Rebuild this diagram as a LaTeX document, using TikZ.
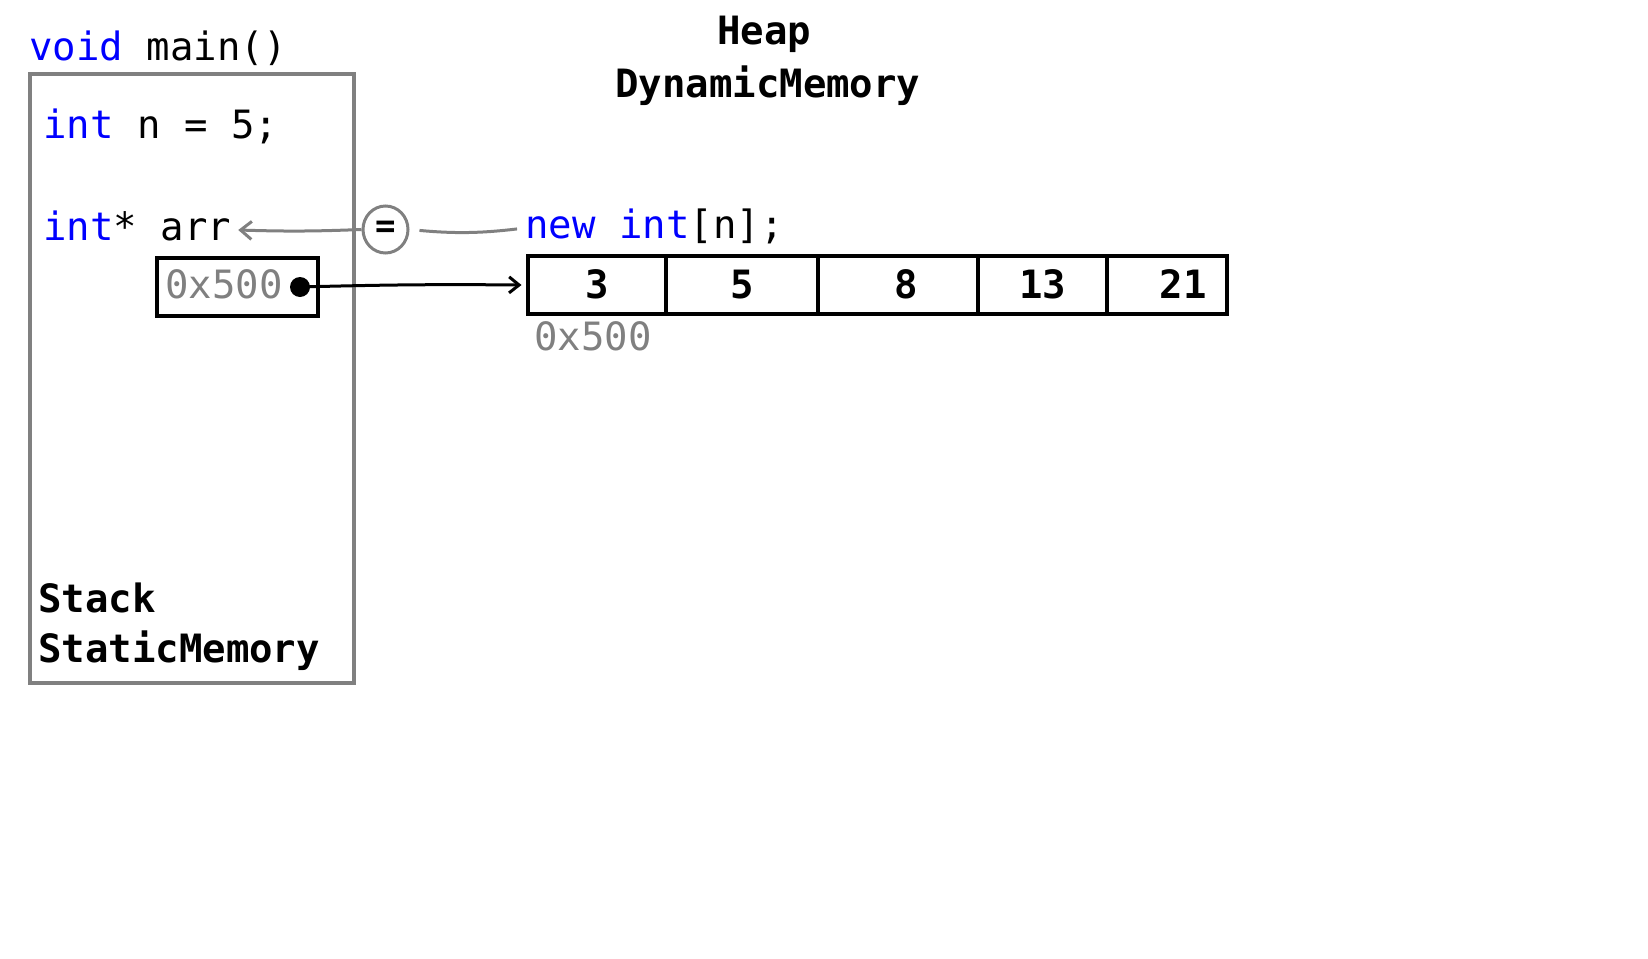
\documentclass[tikz,border=0pt]{standalone}
\usepackage{fontspec}
\setmainfont{DejaVu Sans Mono}
\usetikzlibrary{arrows.meta,shapes.geometric}
\definecolor{kw}{RGB}{0,0,255}
\definecolor{addrgray}{RGB}{128,128,128}
\begin{document}
\begin{tikzpicture}[x=1pt,y=-1pt,
  code/.style={anchor=base west,inner sep=0pt,font=\fontsize{39}{47}\selectfont},
  boldcode/.style={anchor=base west,inner sep=0pt,font=\fontsize{39}{47}\selectfont\bfseries},
  frame/.style={draw=addrgray,line width=4pt,inner sep=0pt},
  cell/.style={draw=black,line width=4pt,inner sep=0pt,minimum height=57.5pt,text height=27pt,text depth=0pt,font=\fontsize{39}{47}\selectfont\bfseries},
  ptrline/.style={draw=black,line width=3pt,-{Straight Barb[length=10pt,width=16pt]}},
  grayline/.style={draw=addrgray,line width=3pt}
]
\useasboundingbox (0,0) rectangle (1648,958);

% stack frame
\node[frame,minimum width=324.5pt,minimum height=608.5pt] (stack) at (191.75,378.25) {};
\node[code] (main) at (29,60) {\textcolor{kw}{void} main()};
\node[code] (intn) at (43,138) {\textcolor{kw}{int} n = 5;};
\node[code] (intarr) at (43,240) {\textcolor{kw}{int}* arr};
\node[draw=black,line width=4pt,inner sep=0pt,minimum width=161.6pt,minimum height=58.8pt] (ptrbox) at (237.5,287) {};
\node[code,text=addrgray] (ptrval) at (165,298) {0x500};
\node[circle,fill=black,inner sep=0pt,minimum size=20pt] (dot) at (300,287) {};
\node[boldcode] (stacklbl) at (38,612) {Stack};
\node[boldcode] (staticlbl) at (38,662) {StaticMemory};

% heap
\node[boldcode] (heaplbl) at (717,45) {Heap};
\node[boldcode] (dynlbl) at (615,97) {DynamicMemory};
\node[code] (newexpr) at (525,238) {\textcolor{kw}{new} \textcolor{kw}{int}[n];};
\node[cell,minimum width=138.5pt] (c1) at (596.75,285) {3};
\node[cell,minimum width=152pt] (c2) at (742,285) {5};
\node[cell,minimum width=160pt] (c3) at (898,285) {\hspace*{16pt}8};
\node[cell,minimum width=129pt] (c4) at (1042.5,285) {13};
\node[cell,minimum width=120pt] (c5) at (1167,285) {\hspace*{32pt}21};
\node[code,text=addrgray] (heapaddr) at (534,350) {0x500};

% assignment
\node[ellipse,draw=addrgray,line width=3pt,minimum width=45pt,minimum height=47pt,inner sep=0pt,font=\fontsize{34}{40}\selectfont\bfseries] (eq) at (385.5,229.5) {=};
\draw[grayline,-{Straight Barb[length=11pt,width=18pt]}] (eq.west) to[bend left=2] ([shift={(7,-10)}]intarr.base east);
\draw[grayline,shorten <=8pt,shorten >=10pt] ([yshift=10pt]newexpr.base west) to[bend left=6] (eq.east);

% pointer
\draw[ptrline] (dot.center) to[bend left=1] ([xshift=-4pt]c1.west);
\end{tikzpicture}
\end{document}
